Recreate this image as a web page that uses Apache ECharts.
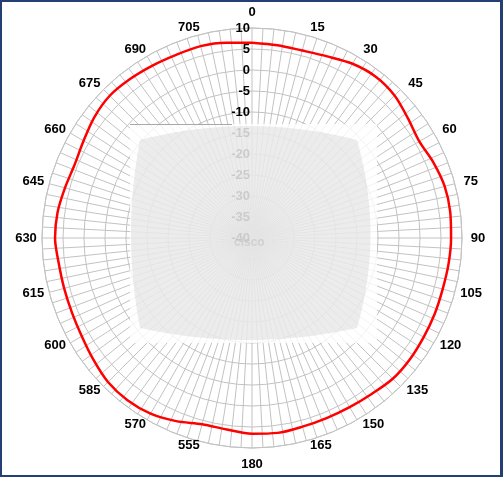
<!DOCTYPE html>
<html>
<head>
<meta charset="utf-8">
<script src="https://cdn.jsdelivr.net/npm/echarts@6/dist/echarts.min.js"></script>
<style>
html,body{margin:0;padding:0;background:#fff;}
#frame{position:absolute;left:0;top:0;width:503px;height:477px;box-sizing:border-box;border:2px solid #243f73;border-right-width:3px;}
#chart{position:absolute;left:0;top:0;width:503px;height:477px;}
</style>
</head>
<body>
<div id="chart"></div>
<div id="frame"></div>
<script>
// Angle (degrees, clockwise from top) and gain (dB)
const angles = [0,7.5,15,22.5,30,37.5,45,52.5,60,67.5,75,82.5,90,97.5,105,112.5,120,127.5,135,142.5,150,157.5,165,172.5,180,187.5,195,202.5,210,217.5,225,232.5,240,247.5,255,262.5,270,277.5,285,292.5,300,307.5,315,322.5,330,337.5,345,352.5,360];
const gain = [6.5,6.3,6.2,6.8,7.9,8.4,8.0,6.8,6.0,6.8,7.5,7.6,7.4,7.2,7.0,7.1,7.2,7.4,7.4,6.8,6.5,6.4,6.5,6.8,6.6,6.0,5.9,7.2,8.3,8.7,8.5,7.6,6.8,6.4,6.3,6.4,6.9,6.7,6.1,5.7,6.3,7.3,7.9,7.7,7.4,7.2,7.3,6.9,6.5];
// Tick labels around the circle, one per 15 degrees
const angleTickLabels = ['0','15','30','45','60','75','90','105','120','135','150','165','180','555','570','585','600','615','630','645','660','675','690','705'];
const radiusTicks = [-40,-35,-30,-25,-20,-15,-10,-5,0,5,10];

const chart = echarts.init(document.getElementById('chart'), null, {renderer:'canvas'});
const font = 'Liberation Sans, Arial, sans-serif';
const gridColor = '#c2c2c2';

// pillow-shaped watermark outline (quadratic edges)
function quad(p0,p1,p2,n){const out=[];for(let i=0;i<n;i++){const t=i/n;const a=(1-t)*(1-t),b=2*(1-t)*t,c=t*t;out.push([a*p0[0]+b*p1[0]+c*p2[0],a*p0[1]+b*p1[1]+c*p2[1]]);}return out;}
const TL=[140,140],TR=[357,140],BR=[357,328],BL=[140,328];
const pillow=[].concat(quad(TL,[248,112],TR,20),quad(TR,[384,234],BR,20),quad(BR,[248,352],BL,20),quad(BL,[122,234],TL,20));

chart.setOption({
  animation:false,
  polar:{center:[252,238], radius:210},
  angleAxis:{
    type:'value', min:0, max:360, interval:3, startAngle:90, clockwise:true,
    axisLine:{show:true, lineStyle:{color:gridColor, width:1}},
    axisTick:{show:false},
    splitLine:{show:true, lineStyle:{color:gridColor, width:1}},
    axisLabel:{show:false}
  },
  radiusAxis:{
    type:'value', min:radiusTicks[0], max:radiusTicks[radiusTicks.length-1], interval:5,
    axisLine:{show:false},
    axisTick:{show:false},
    splitLine:{show:true, lineStyle:{color:gridColor, width:1}},
    axisLabel:{margin:2, color:'#000', fontFamily:font, fontWeight:'bold', fontSize:13}
  },
  series:[{
    type:'line', coordinateSystem:'polar', showSymbol:false, smooth:0.3,
    lineStyle:{color:'#ff0000', width:2.5},
    data: angles.map((a,i)=>[gain[i], a]),
    z:3
  }]
});

// angle labels placed around the outer ring (Excel-like placement)
const C = chart.convertToPixel({seriesIndex:0}, [radiusTicks[0], 0]);
const labelGraphics = angleTickLabels.map((txt, i) => {
  const deg = i * 15;
  const P = chart.convertToPixel({seriesIndex:0}, [radiusTicks[radiusTicks.length-1], deg]);
  const R = Math.hypot(P[0]-C[0], P[1]-C[1]);
  const ux = (P[0]-C[0])/R, uy = (P[1]-C[1])/R;
  const Rl = R + 16;
  let x = C[0] + ux*Rl, y = C[1] + uy*Rl;
  if (Math.abs(ux) > 1e-6) {
    const hw = ux > 0 ? txt.length * 3.7 : 5;
    x += Math.sign(ux) * hw * uy * uy;
    y += uy < 0 ? 8*Math.abs(uy) : -11*Math.abs(uy);
  }
  return {type:'text', x:x, y:y, silent:true, z:50,
    style:{text:txt, fill:'#000', font:'bold 13px Liberation Sans, Arial, sans-serif', align:'center', verticalAlign:'middle'}};
});

chart.setOption({
  graphic:[
    {type:'rect', shape:{x:130,y:124,width:247,height:219}, style:{fill:'rgba(255,255,255,0.8)'}, z:100, silent:true},
    {type:'polygon', shape:{points:pillow}, style:{fill:'rgba(200,200,200,0.35)'}, z:101, silent:true},
    {type:'line', shape:{x1:130,y1:124.5,x2:232,y2:124.5}, style:{stroke:'#a8a8a8', lineWidth:1}, z:102, silent:true},
    {type:'text', x:234, y:237, style:{text:'cisco', fill:'rgba(190,190,190,0.5)', font:'bold 12px Liberation Sans'}, z:102, silent:true}
  ].concat(labelGraphics)
});
</script>
</body>
</html>
